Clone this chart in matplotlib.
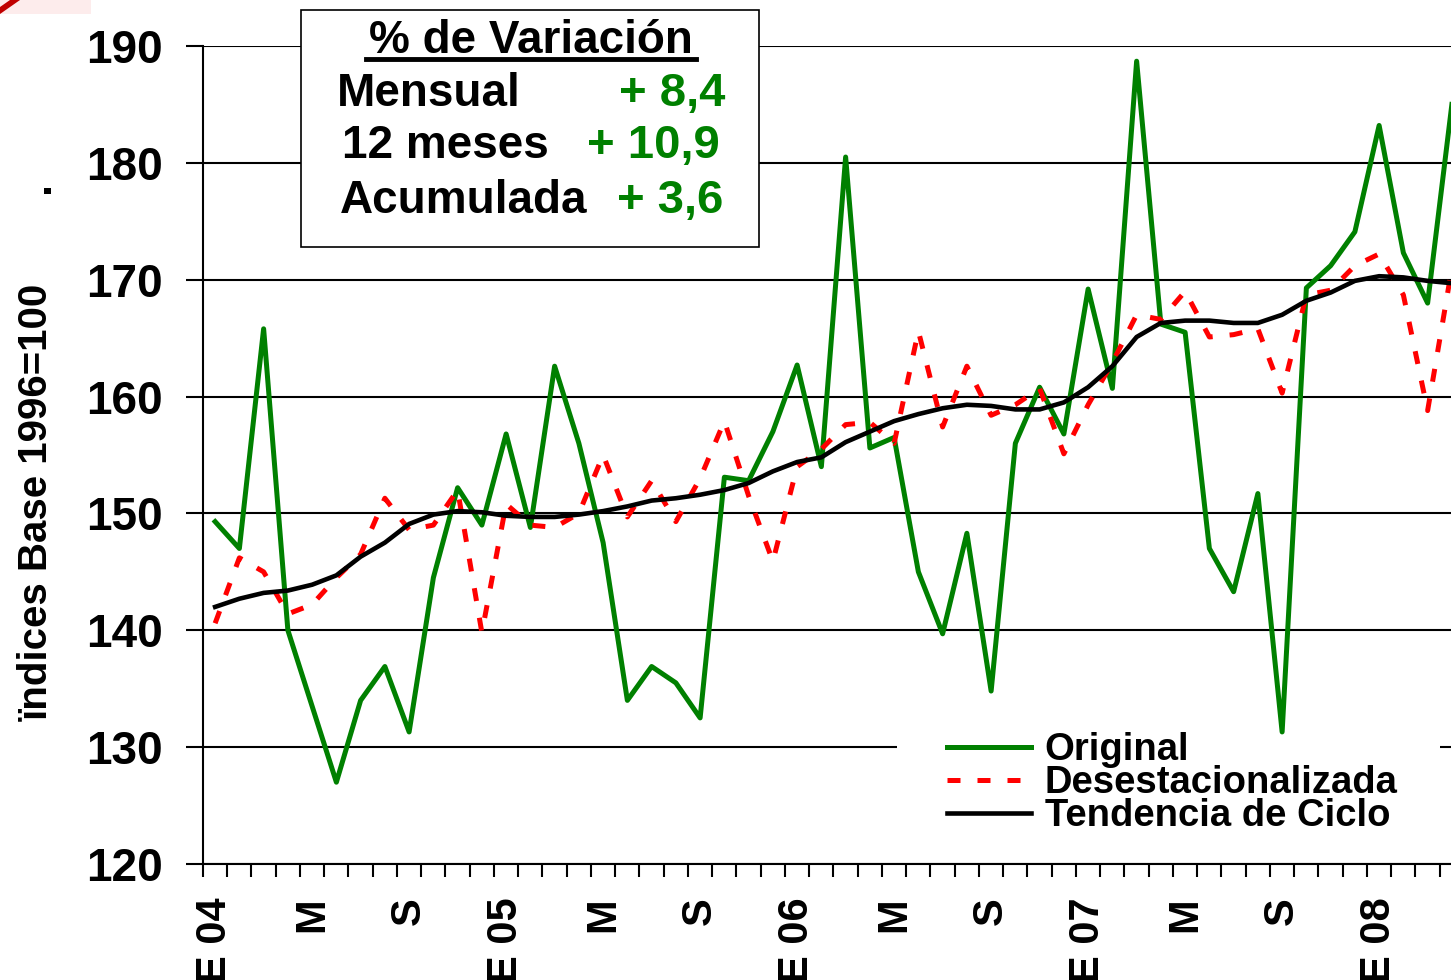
import matplotlib
matplotlib.use('Agg')
import matplotlib.pyplot as plt
from matplotlib.patches import Rectangle, Polygon
from matplotlib.lines import Line2D

plt.rcParams['font.family'] = ['Liberation Sans', 'DejaVu Sans']
plt.rcParams['font.weight'] = 'bold'

# monthly series, Jan 2004 - Apr 2008
original = [149.3, 147.0, 165.8, 140.0, 133.5, 127.0, 134.0, 136.9, 131.3, 144.5,
            152.2, 149.0, 156.8, 148.8, 162.6, 156.0, 147.5, 134.0, 136.9, 135.5,
            132.5, 153.1, 152.8, 157.0, 162.7, 154.0, 180.5, 155.6, 156.5, 145.0,
            139.7, 148.3, 134.8, 156.0, 160.8, 156.8, 169.2, 160.7, 188.7, 166.2,
            165.5, 147.0, 143.3, 151.7, 131.3, 169.3, 171.2, 174.1, 183.2, 172.3,
            168.0, 185.0]
desest = [140.6, 146.2, 145.0, 141.4, 142.2, 144.5, 146.5, 151.3, 148.6, 149.0,
          152.0, 139.8, 150.8, 149.0, 148.8, 150.0, 155.0, 149.7, 152.8, 149.3,
          153.0, 157.9, 151.5, 145.9, 154.0, 155.5, 157.6, 157.8, 156.0, 165.6,
          157.4, 162.6, 158.4, 159.3, 160.7, 155.1, 159.3, 162.9, 167.0, 166.6,
          169.0, 165.1, 165.3, 165.8, 160.3, 168.7, 169.1, 171.2, 172.2, 168.7,
          158.8, 171.0]
tendencia = [142.0, 142.7, 143.2, 143.4, 143.9, 144.7, 146.3, 147.5, 149.1, 149.9,
             150.2, 150.1, 149.8, 149.7, 149.7, 149.9, 150.2, 150.6, 151.1, 151.3,
             151.6, 152.0, 152.6, 153.6, 154.4, 154.8, 156.1, 157.0, 157.9, 158.5,
             159.0, 159.3, 159.2, 158.9, 158.9, 159.5, 160.8, 162.6, 165.1, 166.3,
             166.5, 166.5, 166.3, 166.3, 167.0, 168.2, 168.9, 169.9, 170.3, 170.2,
             169.9, 169.7]
month_labels = ['E 04', 'M', 'S', 'E 05', 'M', 'S', 'E 06', 'M', 'S',
                'E 07', 'M', 'S', 'E 08']
box_rows = ['Mensual', '12 meses', 'Acumulada']
box_values = ['+ 8,4', '+ 10,9', '+ 3,6']

W, H = 1451, 980
fig = plt.figure(figsize=(W / 100, H / 100), dpi=100)


def fx(px):
    return px / W


def fy(py):
    return 1 - py / H


ax = fig.add_axes([fx(203), fy(864), 1261 / W, 818 / H])
x = list(range(len(original)))

green = '#008000'
ax.plot(x, original, color=green, lw=3.6, solid_joinstyle='round', zorder=3,
        label='Original')
ax.plot(x, desest, color='#FF0000', lw=3.6, dashes=(2.6, 3.4), zorder=4,
        label='Desestacionalizada')
ax.plot(x, tendencia, color='black', lw=3.3, solid_joinstyle='round', zorder=5,
        label='Tendencia de Ciclo')

ax.set_xlim(-0.5, len(original) - 0.5)
ax.set_ylim(120, 190)
ax.set_yticks(range(120, 191, 10))
ax.yaxis.grid(True, color='black', lw=1.5)
ax.set_axisbelow(True)
ax.tick_params(axis='y', length=12, width=1.5, pad=17, labelsize=33)
for lab in ax.get_yticklabels():
    lab.set_fontweight('bold')

ax.set_xticks(range(0, len(original), 4))
ax.set_xticklabels(month_labels, rotation=90, fontsize=30, fontweight='bold',
                   va='top', ha='center')
ax.set_xticks([k - 0.5 for k in range(len(original) + 1)], minor=True)
ax.tick_params(axis='x', which='major', length=0, pad=24)
ax.tick_params(axis='x', which='minor', length=9.5, width=1.5)

for s in ['top', 'right']:
    ax.spines[s].set_visible(False)
for s in ['left', 'bottom']:
    ax.spines[s].set_linewidth(1.5)

# white background behind the legend (hides the 130 gridline)
bg = Rectangle((fx(897), fy(757)), (1440 - 897) / W, 20 / H,
               transform=fig.transFigure, facecolor='white', edgecolor='none',
               zorder=2)
ax.add_artist(bg)

leg = ax.legend(loc='upper left', bbox_to_anchor=(fx(947), fy(732)),
                bbox_transform=fig.transFigure, frameon=False,
                fontsize=27.5, handlelength=2.2, handletextpad=0.36,
                labelspacing=-0.08, borderpad=0, borderaxespad=0)
for t in leg.get_texts():
    t.set_fontweight('bold')
leg.set_zorder(6)

# variation box
fig.patches.append(Rectangle((fx(301), fy(247)), (759 - 301) / W, (247 - 10) / H,
                             transform=fig.transFigure, facecolor='white',
                             edgecolor='black', lw=1.2, zorder=2))
fig.text(fx(531), fy(53), '% de Variación', ha='center', va='baseline',
         fontsize=33, fontweight='bold', zorder=4)
fig.lines.append(Line2D([fx(366), fx(696)], [fy(59.5), fy(59.5)],
                        transform=fig.transFigure, color='black', lw=3.5,
                        zorder=4))
lefts = [337, 342, 340]
rights = [725, 720, 723]
bases = [106, 158, 213]
for name, val, l, r, b in zip(box_rows, box_values, lefts, rights, bases):
    fig.text(fx(l), fy(b), name, ha='left', va='baseline', fontsize=33,
             fontweight='bold', zorder=4)
    fig.text(fx(r), fy(b), val, ha='right', va='baseline', fontsize=34,
             fontweight='bold', color=green, zorder=4)

# y label and stray mark
fig.text(fx(37), fy(502), 'ïndices Base 1996=100', rotation=90, ha='center',
         va='center', fontsize=29, fontweight='bold')
fig.patches.append(Rectangle((fx(44), fy(194)), 7 / W, 6 / H,
                             transform=fig.transFigure, facecolor='black',
                             edgecolor='none'))

# corner decoration
fig.patches.append(Rectangle((0, fy(14)), 91 / W, 14 / H,
                             transform=fig.transFigure, facecolor='#FDECEC',
                             edgecolor='none'))
fig.patches.append(Polygon([(0, fy(14)), (0, fy(7)), (fx(10), fy(0)),
                            (fx(20), fy(0))], closed=True,
                           transform=fig.transFigure, facecolor='#C00000',
                           edgecolor='none'))

fig.savefig('out.png', dpi=100)
